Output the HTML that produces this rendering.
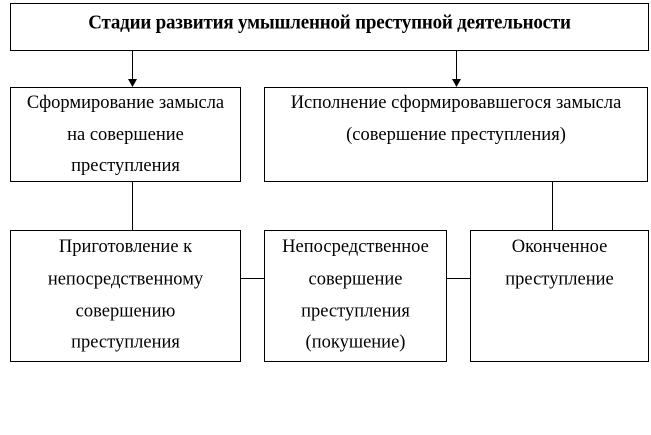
<!DOCTYPE html>
<html><head><meta charset="utf-8"><style>
html,body{margin:0;padding:0;background:#fff;width:651px;height:435px;overflow:hidden;position:relative;font-family:"Liberation Serif",serif;color:#000}
.b{position:absolute;border:1px solid #000;box-sizing:border-box;text-align:center;font-size:18.5px}
.t{position:absolute;left:-20px;right:-20px;text-align:center;white-space:nowrap;transform:scaleY(1.05);line-height:22px}
.l{position:absolute;background:#000}
</style></head><body>
<div class="b" style="left:10px;top:3px;width:639px;height:48px"><div class="t" style="top:8px;font-weight:bold;font-size:19px;letter-spacing:-0.2px">Стадии развития умышленной преступной деятельности</div></div>
<div class="l" style="left:132px;top:51px;width:1px;height:30px"></div>
<div class="l" style="left:456px;top:51px;width:1px;height:30px"></div>
<svg style="position:absolute;left:0;top:0" width="651" height="435"><polygon points="128,79 137,79 132.5,87" fill="#000"/><polygon points="452,79 461,79 456.5,87" fill="#000"/></svg>
<div class="b" style="left:10px;top:87px;width:231px;height:95px">
<div class="t" style="top:4px">Сформирование замысла</div><div class="t" style="top:36px">на совершение</div><div class="t" style="top:67px">преступления</div></div>
<div class="b" style="left:264px;top:87px;width:384px;height:95px">
<div class="t" style="top:4px">Исполнение сформировавшегося замысла</div><div class="t" style="top:36px">(совершение преступления)</div></div>
<div class="l" style="left:132px;top:182px;width:1px;height:48px"></div>
<div class="l" style="left:552px;top:182px;width:1px;height:48px"></div>
<div class="b" style="left:10px;top:230px;width:231px;height:132px">
<div class="t" style="top:5px">Приготовление к</div><div class="t" style="top:37px">непосредственному</div><div class="t" style="top:69px">совершению</div><div class="t" style="top:100px">преступления</div></div>
<div class="b" style="left:264px;top:230px;width:183px;height:132px">
<div class="t" style="top:5px">Непосредственное</div><div class="t" style="top:37px">совершение</div><div class="t" style="top:69px">преступления</div><div class="t" style="top:100px">(покушение)</div></div>
<div class="b" style="left:470px;top:230px;width:179px;height:132px">
<div class="t" style="top:5px">Оконченное</div><div class="t" style="top:37px">преступление</div></div>
<div class="l" style="left:241px;top:278px;width:23px;height:1px"></div>
<div class="l" style="left:447px;top:278px;width:23px;height:1px"></div>
</body></html>
